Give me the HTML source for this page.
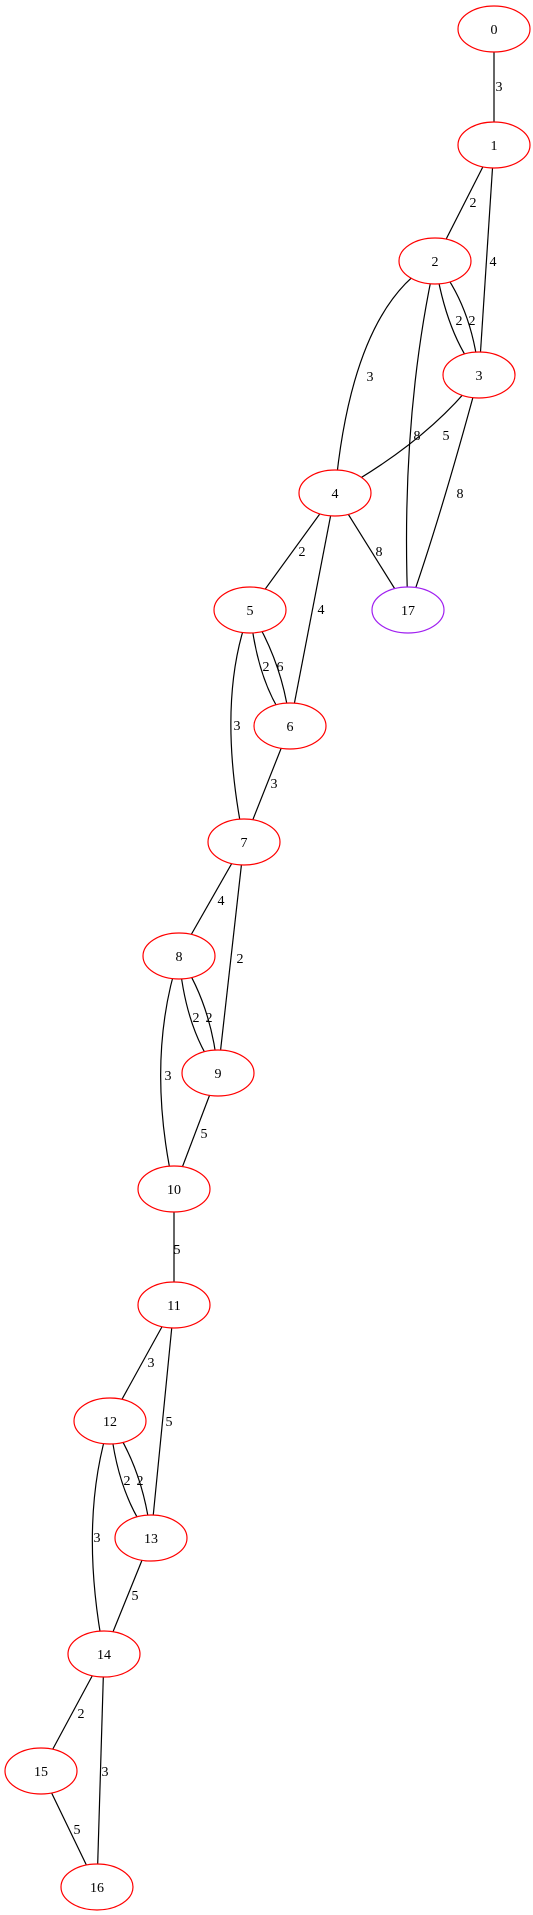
<!DOCTYPE html>
<html><head><meta charset="utf-8"><style>
html,body{margin:0;padding:0;background:#fff;}
svg{display:block;}
text{font-family:"Liberation Serif",serif;font-size:14px;fill:#000;}
</style></head><body>
<svg width="533" height="1915" viewBox="0 0 533 1915" xmlns="http://www.w3.org/2000/svg">
<g fill="none" stroke="#000" stroke-width="1.2">
<path d="M494,29 L494,145"/>
<path d="M494,145 L435,261"/>
<path d="M494,145 L479,375"/>
<path d="M435,261 Q446,335 479,375"/>
<path d="M435,261 Q472,305 479,375"/>
<path d="M435,261 C400,280 350,330 335,493"/>
<path d="M435,261 Q400,420 408,610"/>
<path d="M479,375 Q430,440 335,493"/>
<path d="M479,375 Q440,520 408,610"/>
<path d="M335,493 L250,610"/>
<path d="M335,493 L408,610"/>
<path d="M335,493 L290,726"/>
<path d="M250,610 Q257,685 290,726"/>
<path d="M250,610 Q284,665 290,726"/>
<path d="M250,610 Q215,700 244,842"/>
<path d="M290,726 L244,842"/>
<path d="M244,842 L179,956"/>
<path d="M244,842 L218,1073"/>
<path d="M179,956 Q185,1030 218,1073"/>
<path d="M179,956 Q212,1005 218,1073"/>
<path d="M179,956 Q145,1060 174,1189"/>
<path d="M218,1073 L174,1189"/>
<path d="M174,1189 L174,1305"/>
<path d="M174,1305 L110,1421"/>
<path d="M174,1305 L151,1538"/>
<path d="M110,1421 Q117,1495 151,1538"/>
<path d="M110,1421 Q144,1470 151,1538"/>
<path d="M110,1421 Q78,1520 104,1654"/>
<path d="M151,1538 L104,1654"/>
<path d="M104,1654 L41,1771"/>
<path d="M104,1654 L97,1887"/>
<path d="M41,1771 L97,1887"/>
</g>
<g fill="#fff" stroke="#ff0000" stroke-width="1.2">
<ellipse cx="494" cy="29" rx="36" ry="23"/>
<ellipse cx="494" cy="145" rx="36" ry="23"/>
<ellipse cx="435" cy="261" rx="36" ry="23"/>
<ellipse cx="479" cy="375" rx="36" ry="23"/>
<ellipse cx="335" cy="493" rx="36" ry="23"/>
<ellipse cx="250" cy="610" rx="36" ry="23"/>
<ellipse cx="408" cy="610" rx="36" ry="23" stroke="#a020f0"/>
<ellipse cx="290" cy="726" rx="36" ry="23"/>
<ellipse cx="244" cy="842" rx="36" ry="23"/>
<ellipse cx="179" cy="956" rx="36" ry="23"/>
<ellipse cx="218" cy="1073" rx="36" ry="23"/>
<ellipse cx="174" cy="1189" rx="36" ry="23"/>
<ellipse cx="174" cy="1305" rx="36" ry="23"/>
<ellipse cx="110" cy="1421" rx="36" ry="23"/>
<ellipse cx="151" cy="1538" rx="36" ry="23"/>
<ellipse cx="104" cy="1654" rx="36" ry="23"/>
<ellipse cx="41" cy="1771" rx="36" ry="23"/>
<ellipse cx="97" cy="1887" rx="36" ry="23"/>
</g>
<g text-anchor="middle">
<text x="494" y="34">0</text>
<text x="494" y="150">1</text>
<text x="435" y="266">2</text>
<text x="479" y="380">3</text>
<text x="335" y="498">4</text>
<text x="250" y="615">5</text>
<text x="408" y="615">17</text>
<text x="290" y="731">6</text>
<text x="244" y="847">7</text>
<text x="179" y="961">8</text>
<text x="218" y="1078">9</text>
<text x="174" y="1194">10</text>
<text x="174" y="1310">11</text>
<text x="110" y="1426">12</text>
<text x="151" y="1543">13</text>
<text x="104" y="1659">14</text>
<text x="41" y="1776">15</text>
<text x="97" y="1892">16</text>
</g>
<g text-anchor="middle">
<text x="499" y="91">3</text>
<text x="473" y="207">2</text>
<text x="493" y="266">4</text>
<text x="459" y="325">2</text>
<text x="472" y="325">2</text>
<text x="370" y="381">3</text>
<text x="417" y="440">8</text>
<text x="446" y="440">5</text>
<text x="460" y="498">8</text>
<text x="302" y="556">2</text>
<text x="379" y="556">8</text>
<text x="321" y="614">4</text>
<text x="266" y="671">2</text>
<text x="280" y="671">6</text>
<text x="237" y="730">3</text>
<text x="274" y="788">3</text>
<text x="221" y="905">4</text>
<text x="240" y="963">2</text>
<text x="196" y="1022">2</text>
<text x="209" y="1022">2</text>
<text x="168" y="1080">3</text>
<text x="204" y="1138">5</text>
<text x="177" y="1254">5</text>
<text x="151" y="1367">3</text>
<text x="169" y="1426">5</text>
<text x="127" y="1485">2</text>
<text x="140" y="1485">2</text>
<text x="97" y="1542">3</text>
<text x="135" y="1600">5</text>
<text x="81" y="1718">2</text>
<text x="105" y="1776">3</text>
<text x="77" y="1834">5</text>
</g>
</svg>
</body></html>
